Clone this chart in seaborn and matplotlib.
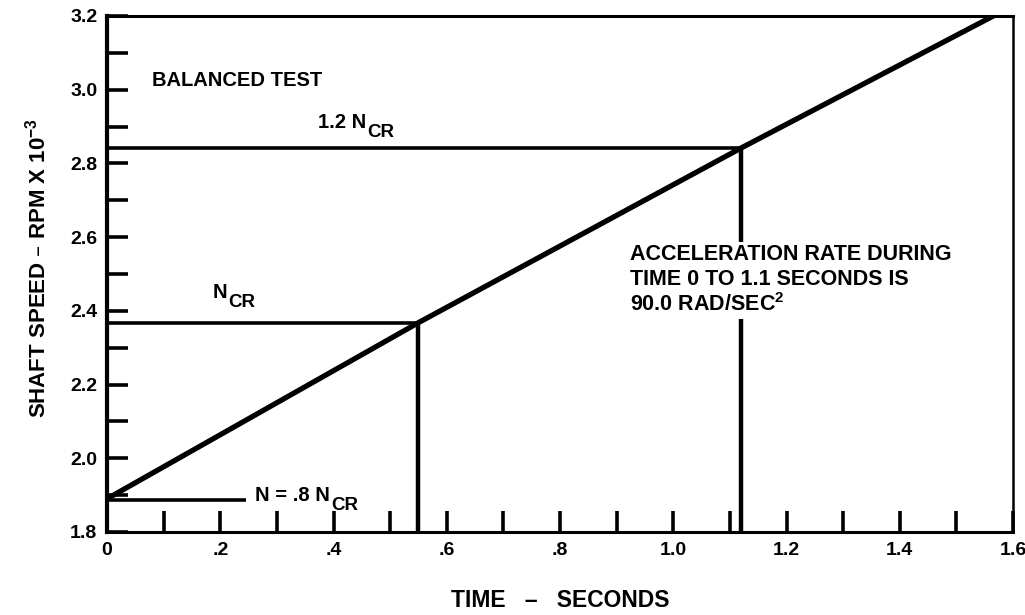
import matplotlib
matplotlib.use("Agg")
import matplotlib.pyplot as plt
from matplotlib.ticker import MultipleLocator, FixedLocator, FixedFormatter
import pandas as pd
import seaborn as sns

# Shaft speed (RPM x 10^-3) against time (seconds) during the balanced run-up
ramp_time = [0.0, 0.55, 1.12, 1.565]
ramp_speed = [1.89, 2.368, 2.842, 3.20]

# Reference speed levels and the times at which the ramp reaches them
level_main = ["N = .8 N", "N", "1.2 N"]
level_sub = ["CR", "CR", "CR"]
level_speed = [1.888, 2.368, 2.842]
level_end_time = [0.245, 0.55, 1.12]
level_label_pos = [(0.262, 1.90), (0.186, 2.45), (0.372, 2.91)]

x_tick_values = [0.0, 0.2, 0.4, 0.6, 0.8, 1.0, 1.2, 1.4, 1.6]
x_tick_labels = ["0", ".2", ".4", ".6", ".8", "1.0", "1.2", "1.4", "1.6"]
y_tick_values = [1.8, 2.0, 2.2, 2.4, 2.6, 2.8, 3.0, 3.2]
y_tick_labels = ["1.8", "2.0", "2.2", "2.4", "2.6", "2.8", "3.0", "3.2"]

sns.set_theme(style="white")
plt.rcParams["font.family"] = ["Liberation Sans", "DejaVu Sans"]

fig = plt.figure(figsize=(10.25, 6.15), dpi=100)
ax = fig.add_axes([0.1044, 0.135, 0.8840, 0.839])

ramp = pd.DataFrame({"time": ramp_time, "speed": ramp_speed})
sns.lineplot(data=ramp, x="time", y="speed", ax=ax, color="black",
             linewidth=3.8, estimator=None, sort=False)

# Horizontal reference levels, ending where the ramp crosses them
for spd, t_end in zip(level_speed, level_end_time):
    seg = pd.DataFrame({"time": [0.0, t_end], "speed": [spd, spd]})
    sns.lineplot(data=seg, x="time", y="speed", ax=ax, color="black",
                 linewidth=2.6, estimator=None, sort=False,
                 solid_capstyle="butt")

# Drop lines from the crossing points down to the time axis
for spd, t_end in zip(level_speed[1:], level_end_time[1:]):
    seg = pd.DataFrame({"time": [t_end, t_end], "speed": [1.8, spd]})
    sns.lineplot(data=seg, x="time", y="speed", ax=ax, color="black",
                 linewidth=3.2, estimator=None, sort=False,
                 solid_capstyle="butt")

ax.set_xlim(0, 1.6)
ax.set_ylim(1.8, 3.2)

ax.xaxis.set_major_locator(FixedLocator(x_tick_values))
ax.xaxis.set_major_formatter(FixedFormatter(x_tick_labels))
ax.yaxis.set_major_locator(FixedLocator(y_tick_values))
ax.yaxis.set_major_formatter(FixedFormatter(y_tick_labels))
ax.xaxis.set_minor_locator(MultipleLocator(0.1))
ax.yaxis.set_minor_locator(MultipleLocator(0.1))

ax.tick_params(axis="both", which="both", direction="in", length=15,
               width=2.6, color="black", bottom=True, left=True,
               top=False, right=False)
ax.tick_params(axis="both", which="major", labelsize=14, pad=7,
               labelcolor="black")
for lbl in ax.get_xticklabels() + ax.get_yticklabels():
    lbl.set_fontweight("bold")

for side in ("left", "right", "top", "bottom"):
    ax.spines[side].set_visible(True)
    ax.spines[side].set_color("black")
ax.spines["left"].set_linewidth(3.0)
ax.spines["bottom"].set_linewidth(2.2)
ax.spines["top"].set_linewidth(2.2)
ax.spines["right"].set_linewidth(1.8)

ax.set_xlabel("TIME   \u2013   SECONDS", fontsize=16.5, fontweight="bold",
              color="black")
ax.xaxis.set_label_coords(0.5, -0.11)
ax.set_ylabel("SHAFT SPEED \u2013 RPM X 10$^{\\mathregular{-3}}$", fontsize=16,
              fontweight="bold", color="black")
ax.yaxis.set_label_coords(-0.062, 0.512)

txt = dict(fontsize=14.5, color="black", fontweight="bold")
ax.text(0.079, 3.025, "BALANCED TEST", va="center", ha="left", **txt)

# Level labels: "N" followed by a large, dropped "CR" subscript
for main, sub, (lx, ly) in zip(level_main, level_sub, level_label_pos):
    t_main = ax.text(lx, ly, main, va="center", ha="left", **txt)
    ax.annotate(sub, xy=(1, 0), xycoords=t_main, xytext=(1, -9),
                textcoords="offset pixels", va="bottom", ha="left",
                fontsize=13.5, fontweight="bold", color="black")

# Note sits on a white patch that interrupts the 1.12 s drop line
ax.text(0.923, 2.483,
        "ACCELERATION RATE DURING\nTIME 0 TO 1.1 SECONDS IS\n90.0 RAD/SEC$^{\\mathregular{2}}$",
        va="center", ha="left", linespacing=1.2, fontsize=15.5,
        fontweight="bold", color="black", zorder=5,
        bbox=dict(facecolor="white", edgecolor="none", pad=2))

fig.savefig("out.png", dpi=100, facecolor="white")
